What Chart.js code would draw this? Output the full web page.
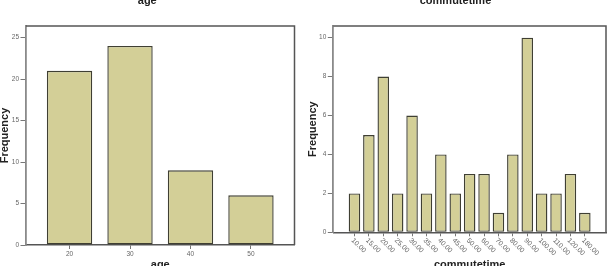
<!DOCTYPE html>
<html><head><meta charset="utf-8">
<script src="https://cdn.jsdelivr.net/npm/chart.js@4.4.1/dist/chart.umd.min.js"></script>
<style>
html,body{margin:0;padding:0;background:#fff;width:610px;height:266px;overflow:hidden;position:relative}
canvas{position:absolute;top:-8px}
#c1{left:0}
#c2{left:305px}
</style></head><body>
<canvas id="c1" width="305" height="280"></canvas>
<canvas id="c2" width="305" height="280"></canvas>
<script>
// ---- data ----
const ageCategories = ['20', '30', '40', '50'];
const ageFrequency = [21, 24, 9, 6];
const ageYTicks = [0, 5, 10, 15, 20, 25];

const commuteCategories = ['10.00', '15.00', '20.00', '25.00', '30.00', '35.00', '40.00', '45.00', '50.00',
  '60.00', '70.00', '80.00', '90.00', '100.00', '110.00', '120.00', '180.00'];
const commuteFrequency = [2, 5, 8, 2, 6, 2, 4, 2, 3, 3, 1, 4, 10, 2, 2, 3, 1];
const commuteYTicks = [0, 2, 4, 6, 8, 10];

// ---- styles ----
const FONT = '"Liberation Sans", Arial, sans-serif';
const BAR_FILL = '#d3cf97';
const BAR_EDGE = '#3f3f33';
const FRAME = '#555555';
const AXIS_LEFT = '#8a8a8a';
const TICK_TXT = '#666666';

const framePlugin = {
  id: 'frame',
  afterDraw(chart) {
    const { ctx, chartArea: a } = chart;
    ctx.save();
    ctx.strokeStyle = FRAME;
    ctx.lineWidth = 1.5;
    ctx.beginPath();
    ctx.moveTo(a.left, a.top);
    ctx.lineTo(a.right, a.top);
    ctx.lineTo(a.right, a.bottom);
    ctx.stroke();
    ctx.restore();
  }
};

function buildChart(canvas, opts) {
  const pts = opts.values.map((v, i) => ({ x: i, y: v }));
  return new Chart(canvas, {
    type: 'bar',
    data: {
      datasets: [{
        data: pts,
        backgroundColor: BAR_FILL,
        borderColor: BAR_EDGE,
        borderWidth: 1.4,
        borderSkipped: false,
        barPercentage: opts.barPct,
        categoryPercentage: 1
      }]
    },
    options: {
      responsive: false,
      animation: false,
      devicePixelRatio: 1,
      layout: { padding: { left: 0, right: opts.padRight, top: 0, bottom: 0 } },
      plugins: {
        legend: { display: false },
        tooltip: { enabled: false },
        title: {
          display: true,
          text: opts.title,
          color: '#222',
          font: { family: FONT, size: 11, weight: 'bold' },
          padding: { top: 2.5, bottom: 18.3 }
        }
      },
      scales: {
        x: {
          type: 'linear',
          offset: false,
          min: opts.xMin,
          max: opts.xMax,
          afterBuildTicks: (s) => { s.ticks = opts.categories.map((c, i) => ({ value: i })); },
          afterFit: (s) => { s.height = opts.xHeight; },
          ticks: {
            display: opts.xTicksDisplay,
            autoSkip: false,
            maxRotation: 0,
            minRotation: 0,
            padding: 1,
            color: TICK_TXT,
            font: { family: FONT, size: 6.5 },
            callback: (v) => opts.categories[v]
          },
          grid: { offset: false, drawOnChartArea: false, drawTicks: true, tickLength: 4, color: '#777', lineWidth: 1 },
          border: { display: true, color: FRAME, width: 1.5 },
          title: {
            display: true,
            text: opts.title,
            color: '#222',
            font: { family: FONT, size: 11, weight: 'bold' },
            padding: 0
          }
        },
        y: {
          type: 'linear',
          min: 0,
          max: opts.yMax,
          afterBuildTicks: (s) => { s.ticks = opts.yTicks.map(v => ({ value: v })); },
          afterFit: (s) => { s.width = opts.yWidth; },
          ticks: {
            padding: 1.5,
            color: TICK_TXT,
            font: { family: FONT, size: 6.5 }
          },
          grid: { drawOnChartArea: false, drawTicks: true, tickLength: 5.5, color: '#777', lineWidth: 1 },
          border: { display: true, color: AXIS_LEFT, width: 1.8 },
          title: {
            display: true,
            text: 'Frequency',
            color: '#222',
            font: { family: FONT, size: 11, weight: 'bold' },
            padding: { top: opts.yTitlePad, bottom: 0 }
          }
        }
      }
    },
    plugins: opts.plugins
  });
}

// rotated tick labels for the commutetime axis (down-right slant)
const slantLabels = {
  id: 'slantLabels',
  afterDraw(chart) {
    const { ctx, chartArea } = chart;
    const xs = chart.scales.x;
    ctx.save();
    ctx.font = '7px ' + FONT;
    ctx.fillStyle = TICK_TXT;
    ctx.textAlign = 'left';
    ctx.textBaseline = 'middle';
    commuteCategories.forEach((lab, i) => {
      const px = xs.getPixelForValue(i);
      ctx.save();
      ctx.translate(px - 2, chartArea.bottom + 7);
      ctx.rotate(Math.PI / 4);
      ctx.fillText(lab, 0, 0);
      ctx.restore();
    });
    ctx.restore();
  }
};

buildChart(document.getElementById('c1'), {
  title: 'age',
  categories: ageCategories,
  values: ageFrequency,
  yTicks: ageYTicks,
  yMax: 26.4,
  xMin: -0.72,
  xMax: 3.72,
  barPct: 0.75,
  padRight: 10.5,
  yWidth: 26,
  xHeight: 27,
  yTitlePad: -2,
  xTicksDisplay: true,
  plugins: [framePlugin]
});

buildChart(document.getElementById('c2'), {
  title: 'commutetime',
  categories: commuteCategories,
  values: commuteFrequency,
  yTicks: commuteYTicks,
  yMax: 10.6,
  xMin: -1.47,
  xMax: 17.47,
  barPct: 0.8,
  padRight: 4,
  yWidth: 28.3,
  xHeight: 39.7,
  yTitlePad: 1,
  xTicksDisplay: false,
  plugins: [framePlugin, slantLabels]
});
</script>
</body></html>
